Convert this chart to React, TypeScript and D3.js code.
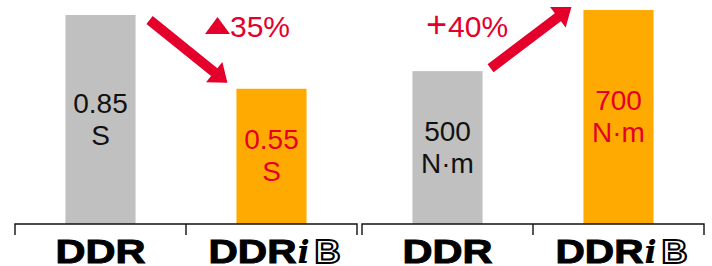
import React, { useEffect, useRef } from 'react';
import * as d3 from 'd3';

const categories = ['DDR', 'DDRiB'];
const timeValues = [0.85, 0.55];
const timeLabels = ['0.85', '0.55'];
const timeUnit = 'S';
const torqueValues = [500, 700];
const torqueLabels = ['500', '700'];
const torqueUnit = 'N·m';
const changeLabels = ['35%', '+40%'];

const WIDTH = 712;
const HEIGHT = 266;
const BASE_Y = 224;
const GRAY = '#c0c0c0';
const ORANGE = '#ffaa00';
const RED = '#e4002b';
const FONT = 'Arial, "Liberation Sans", Helvetica, sans-serif';

// polygon for a thick arrow from (x1,y1) to tip (x2,y2)
const arrowPoints = (x1: number, y1: number, x2: number, y2: number) => {
  const len = Math.hypot(x2 - x1, y2 - y1);
  const ux = (x2 - x1) / len;
  const uy = (y2 - y1) / len;
  const px = -uy;
  const py = ux;
  const sw = 5; // half shaft
  const hw = 13; // half head
  const hl = 17; // head length
  const bx = x2 - ux * hl;
  const by = y2 - uy * hl;
  return [
    [x1 + px * sw, y1 + py * sw],
    [bx + px * sw, by + py * sw],
    [bx + px * hw, by + py * hw],
    [x2, y2],
    [bx - px * hw, by - py * hw],
    [bx - px * sw, by - py * sw],
    [x1 - px * sw, y1 - py * sw],
  ] as [number, number][];
};

export default function App() {
  const svgRef = useRef<SVGSVGElement>(null);

  useEffect(() => {
    if (!svgRef.current) return;
    const svg = d3.select(svgRef.current);
    svg.selectAll('*').remove();

    const panels = [
      {
        range: [15, 357] as [number, number],
        y: d3.scaleLinear().domain([0, 0.85]).range([BASE_Y, 15]),
        values: timeValues,
        labels: timeLabels,
        unit: timeUnit,
      },
      {
        range: [362, 704] as [number, number],
        y: d3.scaleLinear().domain([0, 700]).range([BASE_Y, 10]),
        values: torqueValues,
        labels: torqueLabels,
        unit: torqueUnit,
      },
    ];

    const line = d3.line();

    panels.forEach((p, pi) => {
      const x = d3
        .scaleBand<string>()
        .domain(categories)
        .range(p.range)
        .paddingInner(0.59)
        .paddingOuter(0.295);
      const g = svg.append('g');

      // bars
      g.selectAll('rect.bar')
        .data(p.values)
        .join('rect')
        .attr('class', 'bar')
        .attr('x', (_, i) => x(categories[i])!)
        .attr('y', d => p.y(d))
        .attr('width', x.bandwidth())
        .attr('height', d => BASE_Y - p.y(d))
        .attr('fill', (_, i) => (i === 0 ? GRAY : ORANGE));

      // value labels
      p.values.forEach((v, i) => {
        const cx = x(categories[i])! + x.bandwidth() / 2;
        const cy = (p.y(v) + BASE_Y) / 2 - 1;
        const t = g
          .append('text')
          .attr('x', cx)
          .attr('text-anchor', 'middle')
          .attr('font-family', FONT)
          .attr('font-size', 28)
          .attr('fill', i === 0 ? '#111' : RED);
        t.append('tspan').attr('x', cx).attr('y', cy - 6).text(p.labels[i]);
        t.append('tspan').attr('x', cx).attr('y', cy + 26).text(p.unit);
      });

      // bracket axis
      const [x0, x1] = p.range;
      const xm = (x0 + x1) / 2;
      g.append('path')
        .attr('d', `M${x0},235V${BASE_Y}H${x1}V235M${xm},${BASE_Y}V235`)
        .attr('fill', 'none')
        .attr('stroke', '#111')
        .attr('stroke-width', 1.4);

      // category labels
      categories.forEach(c => {
        const cx = x(c)! + x.bandwidth() / 2;
        const lg = g.append('g');
        const bold = (sel: d3.Selection<SVGTextElement, unknown, null, undefined>) =>
          sel
            .attr('font-family', FONT)
            .attr('font-weight', 'bold')
            .attr('font-size', 34)
            .attr('stroke', '#000')
            .attr('stroke-width', 1)
            .attr('lengthAdjust', 'spacingAndGlyphs');
        if (c === 'DDR') {
          lg.append('text')
            .attr('x', cx)
            .attr('y', 263)
            .attr('text-anchor', 'middle')
            .call(bold)
            .attr('textLength', 90)
            .text('DDR');
        } else {
          const left = cx - 63;
          lg.append('text')
            .attr('x', left)
            .attr('y', 263)
            .call(bold)
            .attr('textLength', 88)
            .text('DDR');
          lg.append('text')
            .attr('x', left + 89)
            .attr('y', 263)
            .attr('font-family', '"DejaVu Serif", serif')
            .attr('font-style', 'italic')
            .attr('font-weight', 'bold')
            .attr('font-size', 32)
            .text('i');
          lg.append('text')
            .attr('x', left + 106)
            .attr('y', 263)
            .attr('font-family', FONT)
            .attr('font-weight', 'bold')
            .attr('font-size', 33)
            .attr('fill', '#fff')
            .attr('stroke', '#000')
            .attr('stroke-width', 2)
            .attr('textLength', 26)
            .attr('lengthAdjust', 'spacingAndGlyphs')
            .text('B');
        }
      });

      // change arrow
      const gx = x(categories[0])! + x.bandwidth();
      const ox = x(categories[1])!;
      const gy = p.y(p.values[0]);
      const oy = p.y(p.values[1]);
      const pts =
        pi === 0
          ? arrowPoints(gx + 14, gy + 5, ox - 9, oy - 6)
          : arrowPoints(gx + 8, gy - 3, ox - 12, oy - 3);
      g.append('path')
        .attr('d', line(pts) + 'Z')
        .attr('fill', RED);

      if (pi === 0) {
        g.append('path')
          .attr('d', line([[205, 34], [230, 34], [217.5, 17]]) + 'Z')
          .attr('fill', RED);
        g.append('text')
          .attr('x', 230)
          .attr('y', 37)
          .attr('font-family', FONT)
          .attr('font-size', 30)
          .attr('fill', RED)
          .text(changeLabels[0]);
      } else {
        const t = g
          .append('text')
          .attr('x', 426)
          .attr('y', 37)
          .attr('font-family', FONT)
          .attr('font-size', 30)
          .attr('fill', RED);
        t.append('tspan').attr('font-size', 36).text(changeLabels[1].slice(0, 1));
        t.append('tspan').attr('dx', 1).text(changeLabels[1].slice(1));
      }
    });
  }, []);

  return (
    <svg
      ref={svgRef}
      width={WIDTH}
      height={HEIGHT}
      style={{ position: 'absolute', left: 0, top: 0, background: '#fff' }}
    />
  );
}
